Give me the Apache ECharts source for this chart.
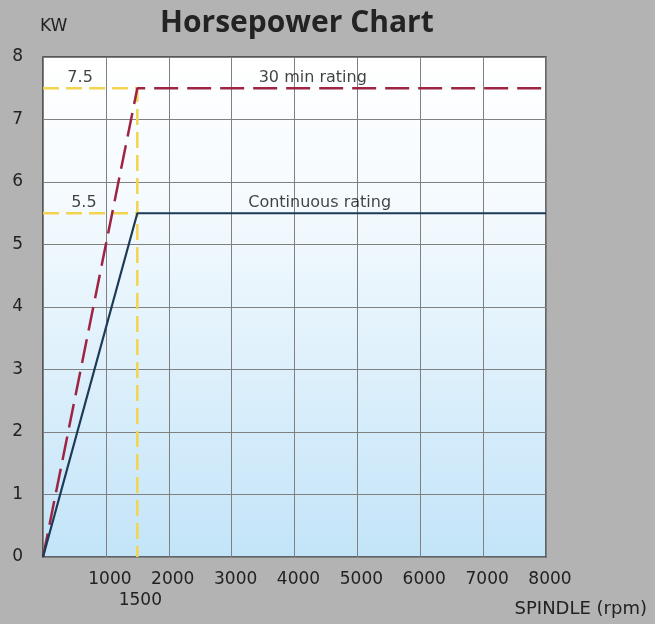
<!DOCTYPE html>
<html>
<head>
<meta charset="utf-8">
<script src="https://cdn.jsdelivr.net/npm/echarts@6/dist/echarts.min.js"></script>
<style>
html,body{margin:0;padding:0;background:#b3b3b3;}
#main{width:655px;height:624px;}
</style>
</head>
<body>
<div id="main"></div>
<script>
// 曲线数据：转速(rpm) / 功率(KW)
var rating30 = [[0, 0], [1500, 7.5], [8000, 7.5]];
var ratingCont = [[0, 0], [1500, 5.5], [8000, 5.5]];
// 黄色辅助虚线
var guide75 = [[0, 7.5], [1500, 7.5], [1500, 0]];
var guide55 = [[0, 5.5], [1500, 5.5]];
// 图中文字标注
var notes = [
	{name: "7.5", value: [590, 7.5]},
	{name: "5.5", value: [650, 5.5]},
	{name: "30 min rating", value: [4290, 7.5]},
	{name: "Continuous rating", value: [4400, 5.5]}
];
var xTicks = [1000, 2000, 3000, 4000, 5000, 6000, 7000, 8000];
var xExtra = [1500];

var FONT = "DejaVu Sans";
var myChart = echarts.init(document.getElementById("main"));
var option = {
	backgroundColor: "#b3b3b3",
	animation: false,
	title: [
		{
			text: "Horsepower Chart",
			left: 155, top: 3,
			textStyle: {fontFamily: "Open Sans", fontWeight: "bold", fontSize: 30, color: "#232323"}
		},
		{
			text: "KW",
			left: 35, top: 13,
			textStyle: {fontFamily: FONT, fontWeight: "normal", fontSize: 17, color: "#222"}
		},
		{
			text: "SPINDLE (rpm)",
			right: 3, top: 595,
			textStyle: {fontFamily: FONT, fontWeight: "normal", fontSize: 18, color: "#222"}
		}
	],
	grid: {
		left: 43, right: 109, top: 57, bottom: 67,
		show: true,
		borderColor: "#3a3a3a",
		borderWidth: 1.5,
		backgroundColor: new echarts.graphic.LinearGradient(0, 0, 0, 1, [
			{offset: 0, color: "#ffffff"},
			{offset: 0.3, color: "#f4fafe"},
			{offset: 1, color: "#c3e4f8"}
		])
	},
	xAxis: [
		{
			type: "value", min: 0, max: 8000, interval: 1000,
			axisLine: {show: false}, axisTick: {show: false},
			splitLine: {lineStyle: {color: "#808080", width: 1}},
			axisLabel: {
				fontFamily: FONT, fontSize: 17, color: "#222", margin: 14, padding: [0, 0, 0, 8],
				formatter: function (v) { return xTicks.indexOf(v) >= 0 ? String(v) : ""; }
			}
		},
		{
			type: "value", min: 0, max: 8000, interval: 500, position: "bottom", offset: 21,
			axisLine: {show: false}, axisTick: {show: false}, splitLine: {show: false},
			axisLabel: {
				fontFamily: FONT, fontSize: 17, color: "#222", margin: 14, padding: [0, 0, 0, 6],
				formatter: function (v) { return xExtra.indexOf(v) >= 0 ? String(v) : ""; }
			}
		}
	],
	yAxis: {
		type: "value", min: 0, max: 8, interval: 1,
		axisLine: {show: false}, axisTick: {show: false},
		splitLine: {lineStyle: {color: "#808080", width: 1}},
		axisLabel: {fontFamily: FONT, fontSize: 17, color: "#222", margin: 20}
	},
	series: [
		{
			type: "line", data: guide75, symbol: "none",
			lineStyle: {color: "#f2d44e", width: 2.5, type: [16, 7]}
		},
		{
			type: "line", data: guide55, symbol: "none",
			lineStyle: {color: "#f2d44e", width: 2.5, type: [16, 7]}
		},
		{
			name: "30 min rating", type: "line", data: rating30, symbol: "none",
			lineStyle: {color: "#9e2443", width: 2.5, type: [24, 9]}
		},
		{
			name: "Continuous rating", type: "line", data: ratingCont, symbol: "none",
			lineStyle: {color: "#1d3a57", width: 2.2}
		},
		{
			type: "scatter", data: notes, symbolSize: 0,
			label: {
				show: true, position: "top", distance: 2,
				formatter: "{b}", fontFamily: FONT, fontSize: 16, color: "#111"
			}
		}
	]
};
myChart.setOption(option);
</script>
</body>
</html>
